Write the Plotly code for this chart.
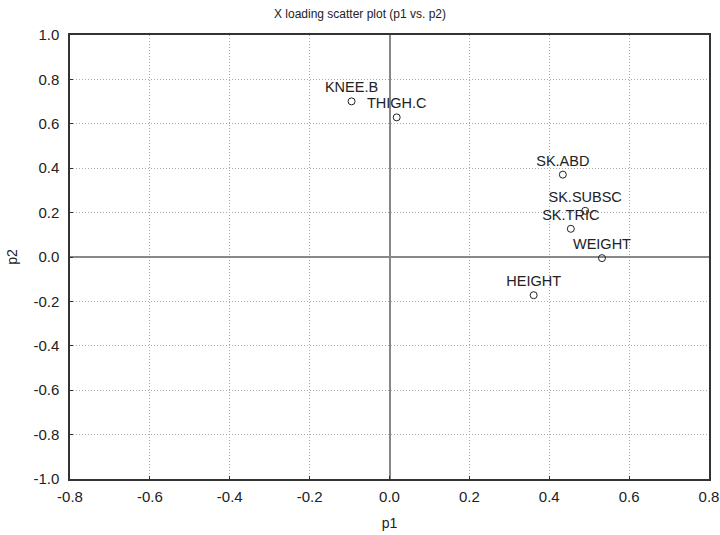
import plotly.graph_objects as go

labels = ["KNEE.B", "THIGH.C", "SK.ABD", "SK.SUBSC", "SK.TRIC", "WEIGHT", "HEIGHT"]
p1 = [-0.095, 0.018, 0.434, 0.490, 0.454, 0.532, 0.361]
p2 = [0.701, 0.629, 0.371, 0.208, 0.127, -0.005, -0.172]

x_ticks = [-0.8, -0.6, -0.4, -0.2, 0.0, 0.2, 0.4, 0.6, 0.8]
y_ticks = [-1.0, -0.8, -0.6, -0.4, -0.2, 0.0, 0.2, 0.4, 0.6, 0.8, 1.0]

font = "Liberation Sans, Arial, sans-serif"

fig = go.Figure()
fig.add_trace(go.Scatter(
    x=p1, y=p2, mode="markers+text", text=labels,
    textposition="top center",
    textfont=dict(family=font, size=14.5, color="#222"),
    marker=dict(symbol="circle-open", size=7, color="#222", line=dict(width=1)),
    cliponaxis=False, showlegend=False,
))

axis_common = dict(
    showgrid=True, gridcolor="#aaa", griddash="1px,2px", gridwidth=1,
    zeroline=True, zerolinecolor="#888", zerolinewidth=2,
    showline=True, linecolor="#333", linewidth=1.5, mirror=True,
    ticks="inside", ticklen=3, tickcolor="#333",
    tickfont=dict(family=font, size=15, color="#222"),
    automargin=False,
)

fig.update_layout(
    width=720, height=535,
    margin=dict(l=70, r=11, t=35, b=56),
    paper_bgcolor="white", plot_bgcolor="white",
    title=dict(text="X loading scatter plot (p1 vs. p2)", x=0.5, xanchor="center",
               yref="container", y=0.974, yanchor="middle",
               font=dict(family=font, size=12, color="#222")),
    xaxis=dict(range=[-0.8, 0.8], tickvals=x_ticks,
               ticktext=[f"{v:.1f}" for v in x_ticks],
               ticklabelstandoff=3,
               title=dict(text="p1", font=dict(family=font, size=14, color="#222"), standoff=14),
               **axis_common),
    yaxis=dict(range=[-1.0, 1.0], tickvals=y_ticks,
               ticktext=[f"{v:.1f}" for v in y_ticks],
               ticklabelstandoff=6,
               title=dict(text="p2", font=dict(family=font, size=14, color="#222"), standoff=12),
               **axis_common),
)

fig.write_html(
    "out.html",
    config={"displayModeBar": False},
    post_script="document.body.style.margin='0';document.body.style.overflow='hidden';",
)
